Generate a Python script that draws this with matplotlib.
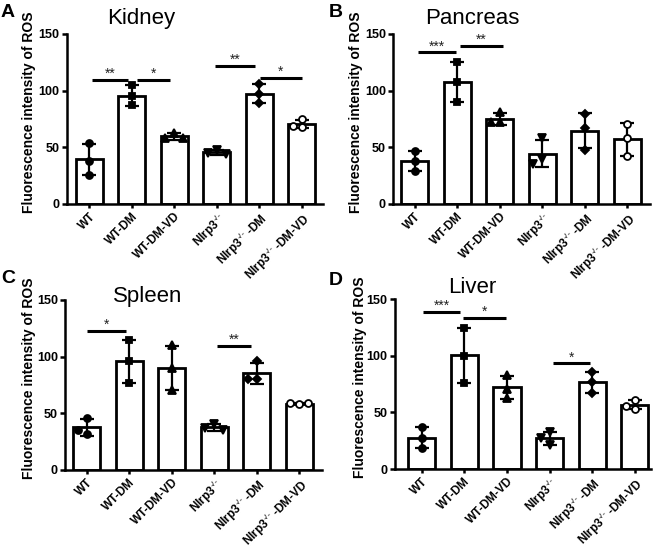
import numpy as np
import matplotlib
matplotlib.use('Agg')
import matplotlib.pyplot as plt

plt.rcParams['font.family'] = ['Liberation Sans', 'DejaVu Sans']
plt.rcParams['mathtext.fontset'] = 'custom'
plt.rcParams['mathtext.rm'] = 'Liberation Sans'
plt.rcParams['mathtext.it'] = 'Liberation Sans:italic'
plt.rcParams['mathtext.bf'] = 'Liberation Sans:bold'

# ---------------- data ----------------
groups = ['WT', 'WT-DM', 'WT-DM-VD', r'Nlrp3$^{\text{-/-}}$',
          r'Nlrp3$^{\text{-/-}}$ -DM', r'Nlrp3$^{\text{-/-}}$ -DM-VD']

kidney = [[54, 38, 26], [105, 95, 87], [63, 58, 58],
          [48, 45, 44], [106, 97, 89], [75, 69, 68]]
pancreas = [[47, 38, 29], [125, 108, 90], [81, 72, 72],
            [58, 40, 35], [79, 67, 48], [71, 58, 42]]
spleen = [[46, 32, 35], [115, 96, 77], [110, 90, 71],
          [41, 37, 35], [96, 80, 80], [58, 59, 59]]
liver = [[37, 27, 19], [125, 100, 76], [83, 71, 63],
         [33, 27, 21], [86, 77, 67], [61, 53, 56]]

# significance annotations: (from category, to category, value, label)
kidney_sig = [(0.06, 0.92, 109.4, '**'), (1.12, 1.90, 109.4, '*'),
              (2.96, 3.91, 122.0, '**'), (4.02, 5.00, 111.0, '*')]
pancreas_sig = [(0.08, 0.98, 133.8, '***'), (1.06, 2.08, 139.4, '**')]
spleen_sig = [(0.01, 0.92, 122.7, '*'), (3.07, 3.86, 109.7, '**')]
liver_sig = [(0.04, 0.90, 139.0, '***'), (0.96, 1.97, 133.2, '*'),
             (3.08, 3.94, 93.4, '*')]

titles = ['Kidney', 'Pancreas', 'Spleen', 'Liver']
letters = ['A', 'B', 'C', 'D']
yticks = [0, 50, 100, 150]
ylabel = 'Fluorescence intensity of ROS'

# ---------------- layout ----------------
W, H = 658, 550
fig = plt.figure(figsize=(W / 100, H / 100), dpi=100)

panels = [
    dict(data=kidney, sig=kidney_sig, box=(66.7, 34, 323.0, 204), xlim=(-0.53, 5.50),
         title_xy=(141, 24), letter_xy=(1, 17), ylab_x=-0.118),
    dict(data=pancreas, sig=pancreas_sig, box=(393.0, 34, 649.7, 204), xlim=(-0.51, 5.53),
         title_xy=(472, 24), letter_xy=(329, 17), ylab_x=-0.115),
    dict(data=spleen, sig=spleen_sig, box=(65.0, 300, 321.7, 470), xlim=(-0.51, 5.53),
         title_xy=(147.5, 301.7), letter_xy=(1, 283), ylab_x=-0.113),
    dict(data=liver, sig=liver_sig, box=(394.7, 299.3, 651.0, 469), xlim=(-0.63, 5.38),
         title_xy=(472.5, 293.3), letter_xy=(329, 285), ylab_x=-0.108),
]

markers = [dict(marker='o', ms=5.0, mfc='black'),
           dict(marker='s', ms=4.6, mfc='black'),
           dict(marker='^', ms=5.5, mfc='black'),
           dict(marker='v', ms=5.5, mfc='black'),
           dict(marker='D', ms=4.2, mfc='black'),
           dict(marker='o', ms=5.0, mfc='white')]


def swarm(vals, xc, px_x, px_y, diam=7.5, step=9.0):
    placed, xs = [], []
    for v in vals:
        x = xc
        for k in [0, -1, 1, -2, 2]:
            x = xc + k * step / px_x
            if all(np.hypot((x - qx) * px_x, (v - qy) * px_y) >= diam for qx, qy in placed):
                break
        placed.append((x, v))
        xs.append(x)
    return xs


for i, p in enumerate(panels):
    l, t, r, b = p['box']
    ax = fig.add_axes([l / W, 1 - b / H, (r - l) / W, (b - t) / H])
    ax.set_xlim(*p['xlim'])
    ax.set_ylim(0, 150)
    px_x = (r - l) / (p['xlim'][1] - p['xlim'][0])
    px_y = (b - t) / 150.0

    xs = np.arange(len(groups))
    means = [np.mean(v) for v in p['data']]
    sds = [np.std(v, ddof=1) for v in p['data']]

    ax.bar(xs, means, width=0.64, color='white', edgecolor='black', linewidth=2.0, zorder=1)
    ax.errorbar(xs, means, yerr=sds, fmt='none', ecolor='black', elinewidth=1.6,
                capsize=5, capthick=1.6, zorder=2)
    for j, vals in enumerate(p['data']):
        px = swarm(vals, xs[j], px_x, px_y)
        m = markers[j]
        ax.plot(px, vals, linestyle='none', marker=m['marker'], markersize=m['ms'],
                markerfacecolor=m['mfc'], markeredgecolor='black', markeredgewidth=1.3,
                zorder=3, clip_on=False)

    for x1, x2, yv, lab in p['sig']:
        ax.plot([x1, x2], [yv, yv], color='black', linewidth=2.2, solid_capstyle='butt',
                clip_on=False, zorder=4)
        ax.text((x1 + x2) / 2, yv + 1.8, lab, ha='center', va='baseline', fontsize=10,
                color='#222222')

    for s in ['top', 'right']:
        ax.spines[s].set_visible(False)
    for s in ['left', 'bottom']:
        ax.spines[s].set_linewidth(1.8)
    ax.set_yticks(yticks)
    ax.set_yticklabels([str(v) for v in yticks], fontsize=9, fontweight='bold')
    ax.tick_params(axis='y', length=3.6, width=1.8, pad=1.5)
    ax.tick_params(axis='x', length=3.0, width=1.8, pad=1.5)
    ax.set_xticks(xs)
    ax.set_xticklabels(groups, rotation=45, ha='right', va='top', rotation_mode='anchor',
                       fontsize=8.5, fontweight='bold')
    ax.set_ylabel(ylabel, fontsize=10, fontweight='bold')
    ax.yaxis.set_label_coords(p['ylab_x'], 0.54)

    tx, ty = p['title_xy']
    fig.text(tx / W, 1 - ty / H, titles[i], ha='center', va='baseline', fontsize=16)
    lx, ly = p['letter_xy']
    fig.text(lx / W, 1 - ly / H, letters[i], ha='left', va='baseline', fontsize=14,
             fontweight='bold')

fig.savefig('out.png', dpi=100)
